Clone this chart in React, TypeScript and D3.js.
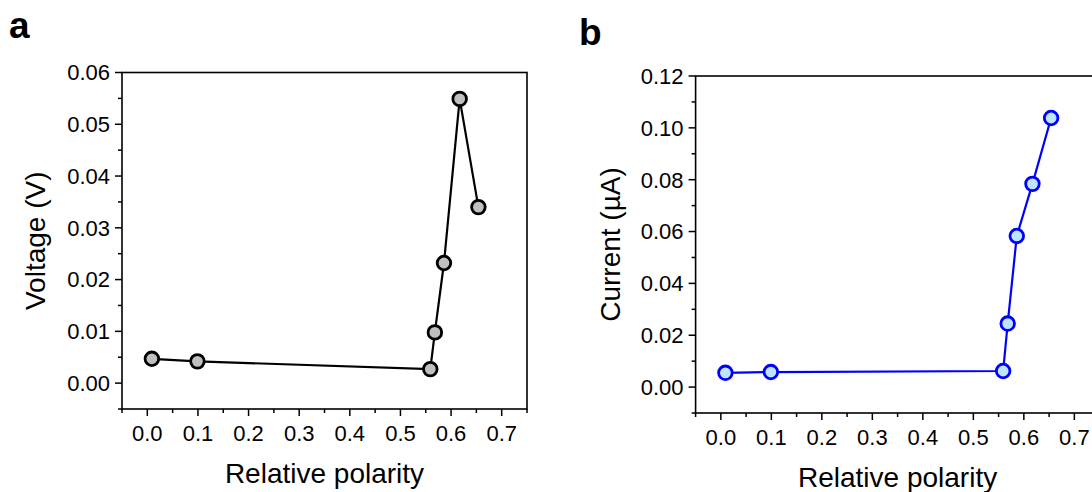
import React from "react";
import * as d3 from "d3";

// Relative polarity of the solvents (same for both panels)
const polarity = [0.009, 0.099, 0.559, 0.568, 0.586, 0.617, 0.654];
// Panel a: voltage (V)
const voltage = [0.0047, 0.0042, 0.0027, 0.0098, 0.0232, 0.0549, 0.034];
// Panel b: current (µA)
const current = [0.0055, 0.0058, 0.0062, 0.0245, 0.0583, 0.0784, 0.1038];

const xTicks = [0, 0.1, 0.2, 0.3, 0.4, 0.5, 0.6, 0.7];
const xMinor = [-0.05, 0.05, 0.15, 0.25, 0.35, 0.45, 0.55, 0.65, 0.75];
const yTicksA = [0, 0.01, 0.02, 0.03, 0.04, 0.05, 0.06];
const yMinorA = [-0.005, 0.005, 0.015, 0.025, 0.035, 0.045, 0.055];
const yTicksB = [0, 0.02, 0.04, 0.06, 0.08, 0.1, 0.12];
const yMinorB = [-0.01, 0.01, 0.03, 0.05, 0.07, 0.09, 0.11];

const FONT = "'Liberation Sans', Arial, Helvetica, sans-serif";

type PanelProps = {
  left: number; right: number; top: number; bottom: number;
  yDomain: [number, number];
  yTicks: number[]; yMinor: number[];
  ys: number[];
  yTitle: string; yTitleX: number;
  label: string; labelX: number; labelY: number;
  lineColor: string; fill: string; stroke: string;
};

function Panel(p: PanelProps) {
  const x = d3.scaleLinear().domain([-0.05, 0.75]).range([p.left, p.right]);
  const y = d3.scaleLinear().domain(p.yDomain).range([p.bottom, p.top]);
  const line = d3.line<number>().x((_, i) => x(polarity[i])).y((v) => y(v));
  const major = 7, minor = 4;
  const midY = (p.top + p.bottom) / 2;
  const midX = (p.left + p.right) / 2;
  return (
    <g fontFamily={FONT}>
      <text x={p.labelX} y={p.labelY} fontSize={37} fontWeight="bold" fill="#000">{p.label}</text>
      {/* frame */}
      <rect x={p.left} y={p.top} width={p.right - p.left} height={p.bottom - p.top}
        fill="none" stroke="#000" strokeWidth={1.6} />
      {/* x ticks */}
      {xTicks.map((t) => (
        <g key={"xt" + t}>
          <line x1={x(t)} x2={x(t)} y1={p.bottom} y2={p.bottom + major} stroke="#000" strokeWidth={1.5} />
          <text x={x(t)} y={p.bottom + 32} fontSize={22} textAnchor="middle" fill="#000">{d3.format(".1f")(t)}</text>
        </g>
      ))}
      {xMinor.map((t) => (
        <line key={"xm" + t} x1={x(t)} x2={x(t)} y1={p.bottom} y2={p.bottom + minor} stroke="#000" strokeWidth={1.5} />
      ))}
      {/* y ticks */}
      {p.yTicks.map((t) => (
        <g key={"yt" + t}>
          <line x1={p.left - major} x2={p.left} y1={y(t)} y2={y(t)} stroke="#000" strokeWidth={1.5} />
          <text x={p.left - 12} y={y(t)} dy="0.36em" fontSize={22} textAnchor="end" fill="#000">{d3.format(".2f")(t)}</text>
        </g>
      ))}
      {p.yMinor.map((t) => (
        <line key={"ym" + t} x1={p.left - minor} x2={p.left} y1={y(t)} y2={y(t)} stroke="#000" strokeWidth={1.5} />
      ))}
      {/* titles */}
      <text x={midX} y={p.bottom + 74} fontSize={28} textAnchor="middle" fill="#000">Relative polarity</text>
      <text transform={`translate(${p.yTitleX},${midY}) rotate(-90)`} fontSize={28} textAnchor="middle" fill="#000">{p.yTitle}</text>
      {/* data */}
      <path d={line(p.ys) ?? ""} fill="none" stroke={p.lineColor} strokeWidth={2.2} />
      {p.ys.map((v, i) => (
        <circle key={"pt" + i} cx={x(polarity[i])} cy={y(v)} r={6.8} fill={p.fill} stroke={p.stroke} strokeWidth={2.8} />
      ))}
    </g>
  );
}

export default function App() {
  return (
    <svg width={1092} height={492} style={{ position: "absolute", left: 0, top: 0, background: "#fff" }}>
      <rect x={0} y={0} width={1092} height={492} fill="#fff" />
      <Panel left={122} right={527} top={72.5} bottom={409} yDomain={[-0.005, 0.06]}
        yTicks={yTicksA} yMinor={yMinorA} ys={voltage}
        yTitle="Voltage (V)" yTitleX={45} label="a" labelX={9} labelY={38}
        lineColor="#000" fill="#c0c0c0" stroke="#000" />
      <Panel left={695.6} right={1099.6} top={76} bottom={413} yDomain={[-0.01, 0.12]}
        yTicks={yTicksB} yMinor={yMinorB} ys={current}
        yTitle="Current (µA)" yTitleX={620} label="b" labelX={579} labelY={45}
        lineColor="#0000ff" fill="#bfe4ff" stroke="#0000ff" />
    </svg>
  );
}
